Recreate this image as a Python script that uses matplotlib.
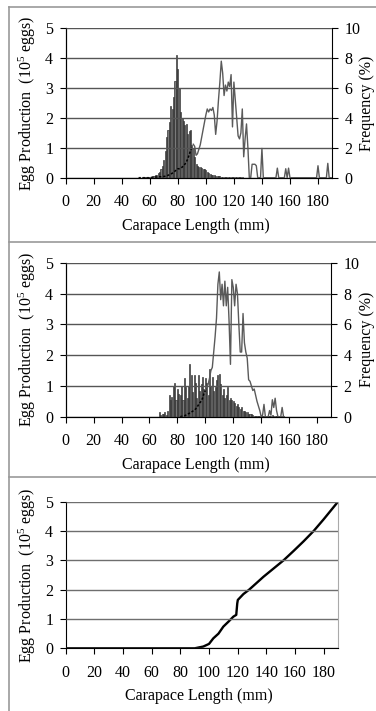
import numpy as np
import matplotlib
matplotlib.use("Agg")
import matplotlib.pyplot as plt
from matplotlib.lines import Line2D

plt.rcParams["font.family"] = ["Liberation Serif", "DejaVu Serif"]
plt.rcParams["mathtext.fontset"] = "custom"
plt.rcParams["mathtext.rm"] = "Liberation Serif"
plt.rcParams["mathtext.it"] = "Liberation Serif:italic"

# ---- panel 1: size frequency (%) and egg production (10^5 eggs) ----
p1_freq_len = np.arange(55, 131)
p1_freq = [0.02, 0.02, 0.03, 0.04, 0.05, 0.06, 0.08, 0.1, 0.12, 0.16,
           0.2, 0.3, 0.4, 0.6, 0.8, 1.2, 1.8, 2.7, 3.2, 3.7,
           4.8, 4.6, 5.4, 6.5, 8.2, 7.3, 6.0, 4.4, 4.0, 3.8,
           3.5, 3.6, 2.9, 3.1, 3.2, 2.2, 2.0, 1.4, 0.9, 0.76,
           0.72, 0.7, 0.66, 0.6, 0.56, 0.5, 0.4, 0.3, 0.24, 0.2,
           0.16, 0.16, 0.14, 0.12, 0.12, 0.1, 0.08, 0.08, 0.08, 0.06,
           0.06, 0.06, 0.04, 0.04, 0.04, 0.04, 0.03, 0.03, 0.02, 0.02,
           0.02, 0.02, 0.01, 0.01, 0.01, 0.01]

p1_egg_len = np.arange(52, 191)
p1_egg = [0, 0, 0, 0, 0, 0, 0, 0, 0,
          0.01, 0.01, 0.01, 0.02, 0.02, 0.02, 0.03, 0.03, 0.04, 0.04,
          0.05, 0.06, 0.08, 0.1, 0.12, 0.15, 0.18, 0.22, 0.27, 0.3,
          0.3, 0.32, 0.35, 0.4, 0.45, 0.52, 0.62, 0.75, 0.9, 1.0,
          1.12, 1.05, 0.75, 0.8, 0.95, 1.1, 1.35, 1.6, 1.85, 2.1,
          2.3, 2.2, 2.3, 2.25, 2.35, 2.1, 1.45, 1.9, 2.6, 3.2,
          3.9, 3.5, 2.75, 3.1, 2.9, 3.2, 3.05, 3.45, 1.7, 3.2,
          2.6, 2.0, 1.4, 1.3, 1.5, 2.3, 0.7, 1.3, 1.8, 1.0,
          0, 0, 0.45, 0.45, 0.45, 0.4, 0, 0, 0, 0.98,
          0, 0, 0, 0, 0, 0, 0, 0, 0, 0,
          0.32, 0, 0, 0, 0, 0, 0.3, 0, 0.32, 0,
          0, 0, 0, 0, 0, 0, 0, 0, 0, 0,
          0, 0, 0, 0, 0, 0, 0, 0, 0, 0.4,
          0, 0, 0, 0, 0, 0, 0.48, 0, 0, 0]
p1_dot_end = 91

# ---- panel 2 ----
p2_freq_len = np.arange(67, 157)
p2_freq = [0.3, 0.1, 0.2, 0.2, 0.3, 0.1, 0.4, 1.4, 1.1, 1.3,
           2.0, 2.2, 1.1, 1.8, 1.5, 1.4, 2.0, 1.1, 2.5, 1.9,
           1.2, 2.0, 3.4, 2.7, 1.6, 2.7, 2.2, 1.2, 2.7, 1.7,
           2.1, 2.6, 1.8, 2.5, 2.2, 1.4, 3.1, 2.0, 2.6, 1.7,
           1.9, 2.4, 2.7, 2.8, 2.1, 1.4, 1.8, 1.2, 1.4, 1.9,
           1.1, 1.2, 1.1, 1.0, 0.9, 0.7, 0.8, 0.6, 0.5, 0.6,
           0.4, 0.4, 0.3, 0.3, 0.2, 0.2, 0.16, 0.1, 0.06, 0.06,
           0.04, 0.04, 0.04, 0.04, 0.04, 0.02, 0.02, 0.02, 0.02, 0.06,
           0.04, 0.08, 0.06, 0.06, 0.04, 0.02, 0.02, 0.02, 0.04, 0.02]

p2_egg_len = np.arange(82, 157)
p2_egg = [0.0, 0.01, 0.02, 0.03, 0.05, 0.07, 0.1, 0.12, 0.15, 0.18,
          0.2, 0.25, 0.3, 0.38, 0.45, 0.5, 0.6, 0.75, 0.85, 0.95,
          1.05, 1.25, 1.5, 1.6, 2.1, 2.6, 3.2, 4.3, 4.7, 3.8,
          4.3, 3.6, 4.4, 3.6, 4.2, 3.1, 1.7, 4.45, 4.2, 3.6,
          4.3, 4.0, 3.0, 2.1, 2.1, 3.35, 2.4, 2.1, 1.9, 1.2,
          1.15, 1.0, 0.85, 0.9, 0.7, 0.5, 0.35, 0.2, 0.0, 0.05,
          0.4, 0.0, 0.0, 0.0, 0.2, 0.05, 0.55, 0.3, 0.6, 0.2,
          0.0, 0.0, 0.0, 0.3, 0.0]
p2_dot_end = 101

# ---- panel 3: fecundity curve ----
p3_len = [0, 90, 96, 100, 103, 106.6, 110, 113.6, 117, 119, 119.7, 120.1,
          124, 128, 138, 152, 159, 166, 173, 180, 190]
p3_egg = [0, 0, 0.06, 0.15, 0.34, 0.5, 0.74, 0.91, 1.08, 1.14, 1.53, 1.65,
          1.85, 2.0, 2.44, 3.0, 3.32, 3.65, 4.0, 4.4, 5.0]

x_ticks = np.arange(0, 181, 20)
W, H = 376, 711
ylab = "Egg Production  (10$^{5}$ eggs)"


def ax_rect(left, right, top, bottom):
    return [left / W, 1 - bottom / H, (right - left) / W, (bottom - top) / H]


def style_axis(ax, grid_color, bottom_px, top_px):
    ax.set_xlim(0, 190)
    ax.set_ylim(0, 5)
    ax.set_xticks(x_ticks)
    ax.set_yticks(range(6))
    ax.yaxis.grid(True, color=grid_color, lw=1.0)
    ax.set_axisbelow(False)
    ax.spines["top"].set_visible(False)
    ax.spines["right"].set_visible(False)
    ax.tick_params(axis="both", direction="out", length=4, width=0.8,
                   labelsize=11.5, color="black")
    ax.tick_params(axis="y", pad=5)
    ax.tick_params(axis="x", pad=8)
    ax.set_xlabel("Carapace Length (mm)", fontsize=11.5)
    ax.set_ylabel(ylab, fontsize=11.5)
    h = bottom_px - top_px
    ax.xaxis.set_label_coords(0.49, -48 / h)
    ax.xaxis.label.set_va("center")
    ax.yaxis.set_label_coords((27 - 65.7) / (ax.get_position().width * W), 0.5)
    ax.yaxis.label.set_va("center")


fig = plt.figure(figsize=(W / 100, H / 100), dpi=100)

panels = [
    (ax_rect(65.7, 332, 28.3, 177.7), p1_freq_len, p1_freq, p1_egg_len, p1_egg, p1_dot_end, 28.3, 177.7),
    (ax_rect(65.7, 331, 262.7, 416.7), p2_freq_len, p2_freq, p2_egg_len, p2_egg, p2_dot_end, 262.7, 416.7),
]

for rect, fl, fv, el, ev, dot_end, top_px, bot_px in panels:
    ax = fig.add_axes(rect)
    ax2 = ax.twinx()
    ax2.bar(fl, fv, width=0.75, color="#7a7a7a", edgecolor="#262626", lw=0.45)
    ax2.set_ylim(0, 10)
    ax2.set_yticks(range(0, 11, 2))
    ax2.tick_params(axis="y", direction="out", length=4, width=0.8, labelsize=11.5, pad=5)
    ax2.spines["top"].set_visible(False)
    ax2.set_ylabel("Frequency (%)", fontsize=11.5)
    w_px = rect[2] * W
    ax2.yaxis.set_label_coords(1 + (367 - rect[0] * W - w_px) / w_px, 0.5)
    ax2.yaxis.label.set_va("center")
    ax.set_zorder(ax2.get_zorder() + 1)
    ax.patch.set_visible(False)

    el = np.asarray(el)
    ev = np.asarray(ev)
    solid = el >= dot_end
    ax.plot(el[solid], ev[solid], color="#5a5a5a", lw=1.0)
    ax.plot(el[~solid], ev[~solid], color="black", lw=1.1, ls=(0, (1.5, 1.2)))
    style_axis(ax, "#555555", bot_px, top_px)

# panel 3
rect3 = ax_rect(65.7, 338, 501.7, 648.3)
ax3 = fig.add_axes(rect3)
ax3.plot(p3_len, p3_egg, color="black", lw=1.7)
style_axis(ax3, "#6e6e6e", 648.3, 501.7)
ax3.spines["right"].set_visible(True)
ax3.spines["right"].set_color("#aaaaaa")

# panel frame lines
frame_kw = dict(transform=fig.transFigure, color="#999999", lw=1.2)
fig.add_artist(Line2D([9 / W, 9 / W], [0, 1 - 7 / H], **frame_kw))
for ypx in (7, 242, 477):
    fig.add_artist(Line2D([9 / W, 1], [1 - ypx / H] * 2, **frame_kw))

fig.savefig("out.png", dpi=100)
